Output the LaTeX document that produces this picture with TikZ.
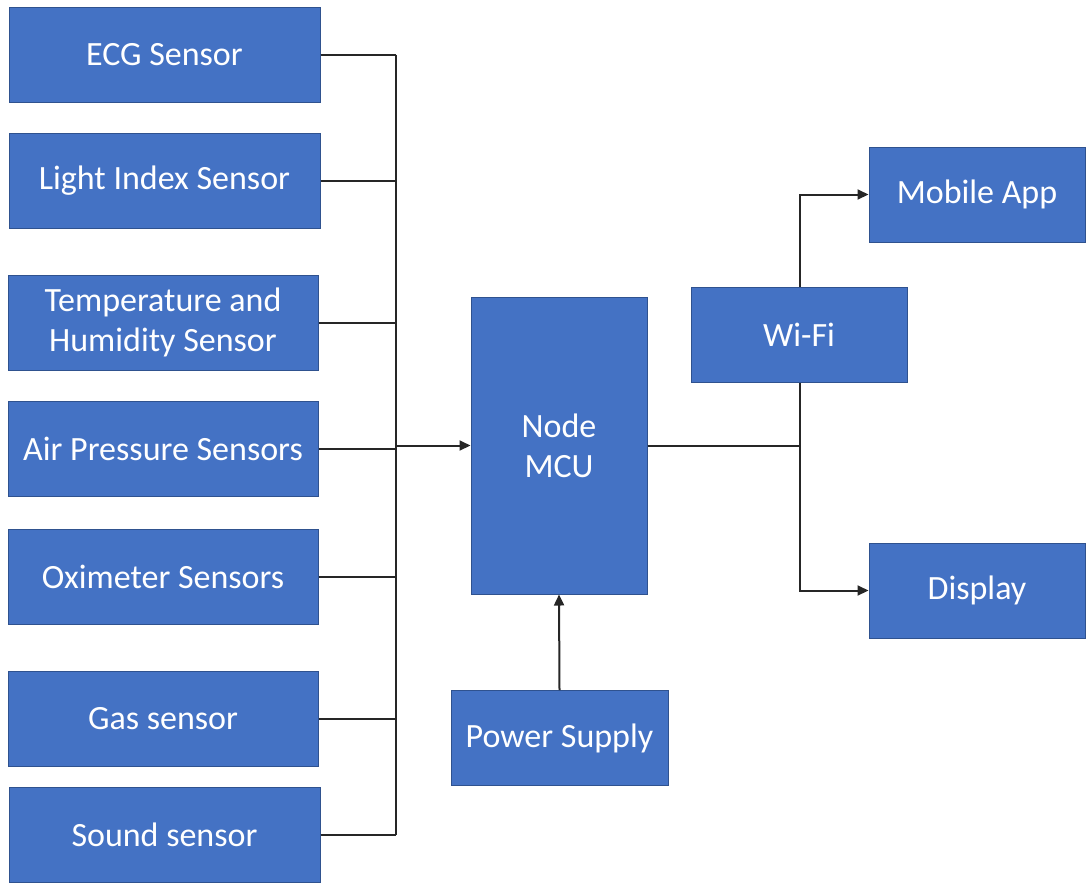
\documentclass[tikz,border=0pt]{standalone}
\usepackage{fontspec}
\setmainfont{Carlito}
\usetikzlibrary{arrows.meta}

\begin{document}
\begin{tikzpicture}[x=1pt,y=-1pt,>={Triangle[length=11pt,width=10pt]},
    block/.style={draw={rgb,255:red,47;green,82;blue,143},line width=1pt,fill={rgb,255:red,68;green,114;blue,196},
        text=white,font=\fontsize{34}{40}\selectfont,align=center,
        minimum width=#1,minimum height=95pt,inner sep=0pt},
    block/.default=310pt,
    wire/.style={line width=2pt,draw=black!85}]
    \useasboundingbox (0,0) rectangle (1089,884);
    % sensors
    \node[block=311pt] (ecg)   at (164.5,54.5)  {ECG Sensor};
    \node[block=311pt] (light) at (164.5,180.5) {Light Index Sensor};
    \node[block]       (temp)  at (163,322.5)   {Temperature and\\Humidity Sensor};
    \node[block]       (air)   at (163,448.5)   {Air Pressure Sensors};
    \node[block]       (oxi)   at (163,576.5)   {Oximeter Sensors};
    \node[block]       (gas)   at (163,718.5)   {Gas sensor};
    \node[block=311pt] (sound) at (164.5,834.5) {Sound sensor};
    % controller and outputs
    \node[block=176pt,minimum height=297pt] (mcu) at (559,445.5) {Node\\MCU};
    \node[block=217pt] (power)   at (559.5,738) {Power Supply};
    \node[block=216pt] (app)     at (977,194.5) {Mobile App};
    \node[block=216pt] (display) at (977,590.5) {Display};
    \coordinate (bus) at (396,0);
    \coordinate (split) at (800,0);
    % sensor bus
    \foreach \s in {ecg,light,temp,air,oxi,gas,sound}
        \draw[wire] (\s.east) -- (\s.east -| bus);
    \draw[wire] (ecg.east -| bus) -- (sound.east -| bus);
    \draw[wire,->] (mcu.west -| bus) -- (mcu.west);
    \draw[wire,->] (power.north) -- (mcu.south);
    % outputs
    \draw[wire] (mcu.east) -- (mcu.east -| split);
    \draw[wire,->] (mcu.east -| split) |- (app.west);
    \draw[wire,->] (mcu.east -| split) |- (display.west);
    \node[block=216pt] (wifi) at (799,334.5) {Wi-Fi};
\end{tikzpicture}
\end{document}
